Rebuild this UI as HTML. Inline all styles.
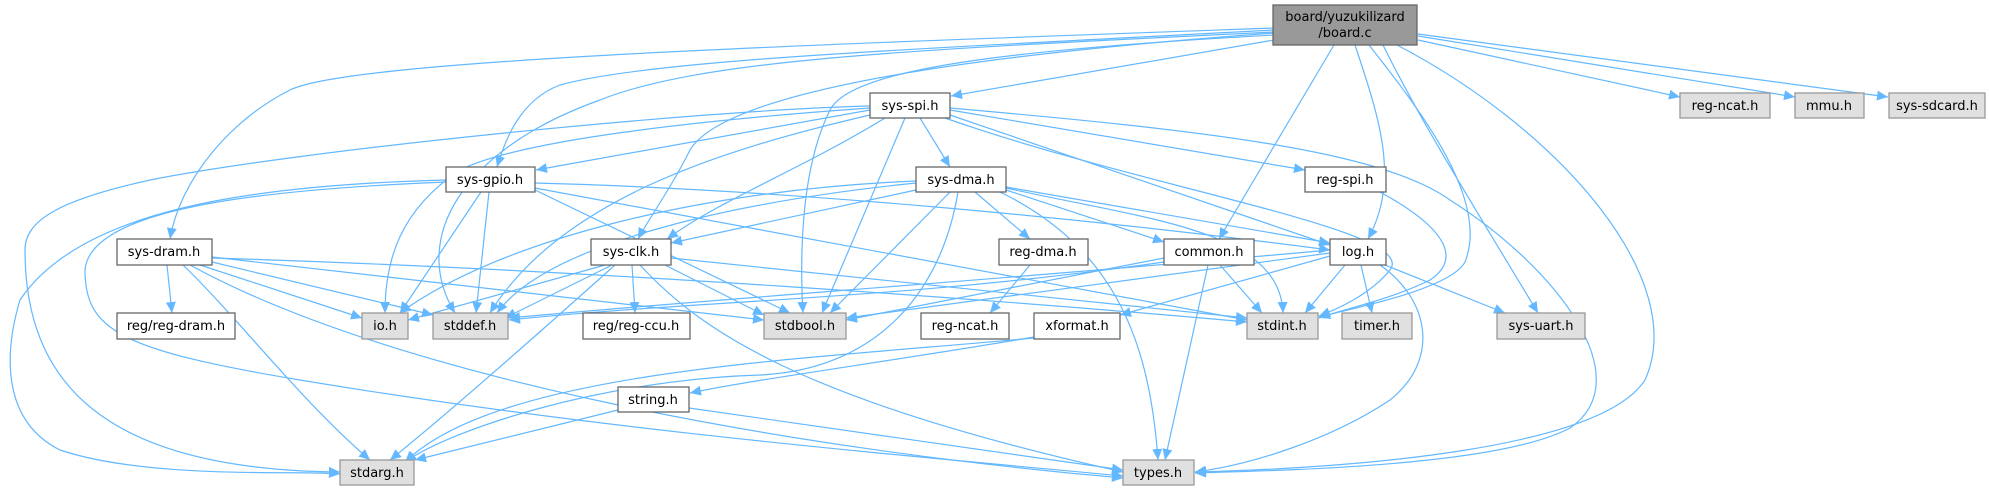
<!DOCTYPE html>
<html><head><meta charset="utf-8"><style>
html,body{margin:0;padding:0;background:#fff;width:1989px;height:491px;overflow:hidden}
svg{display:block}
text{font-family:"DejaVu Sans","Liberation Sans",sans-serif;font-size:13px;fill:#000}
.n rect{fill:#fff;stroke:#666;stroke-width:1.3}
.g rect{fill:#e0e0e0;stroke:#999;stroke-width:1.3}
.e path{fill:none;stroke:#63b8ff;stroke-width:1.2}
</style></head><body>
<svg width="1989" height="491" viewBox="0 0 1989 491" xmlns="http://www.w3.org/2000/svg">
<defs><marker id="a" markerUnits="userSpaceOnUse" markerWidth="12" markerHeight="10" refX="11" refY="5" orient="auto"><path d="M0,0 L11,5 L0,10 z" fill="#63b8ff"/></marker></defs>
<g class="e" marker-end="url(#a)">
<path d="M1274,40 L951,96"/>
<path d="M1334,45 L1219,239"/>
<path d="M1355,45 C1380,120 1400,180 1368,239"/>
<path d="M1369,45 C1420,110 1490,200 1465,262 C1450,290 1345,310 1319,317"/>
<path d="M1383,45 C1420,120 1470,200 1538,313"/>
<path d="M1397,45 C1560,130 1690,280 1645,380 C1600,450 1350,468 1195,472"/>
<path d="M1418,40 L1680,97"/>
<path d="M1418,36 L1795,97"/>
<path d="M1418,34 L1888,97"/>
<path d="M1274,28 C800,45 350,60 290,90 C230,120 180,180 170,239"/>
<path d="M1274,30 C900,50 650,60 560,85 C520,100 505,140 497,167"/>
<path d="M1274,32 C900,50 700,60 600,100 C460,150 410,240 455,313"/>
<path d="M1274,33 C900,60 720,100 690,150 C670,190 648,220 638,239"/>
<path d="M1274,35 C1000,50 850,70 830,110 C800,170 800,260 803,313"/>
<path d="M920,118 L950,167"/>
<path d="M950,110 L1305,170"/>
<path d="M950,115 L1330,245"/>
<path d="M945,118 C1150,190 1420,230 1390,270 C1370,295 1335,310 1319,316"/>
<path d="M950,108 C1200,130 1380,150 1450,200 C1560,270 1640,380 1570,428 C1500,465 1300,470 1195,473"/>
<path d="M870,110 L536,170"/>
<path d="M885,118 C800,170 720,200 667,239"/>
<path d="M905,118 L822,313"/>
<path d="M870,115 C720,150 560,200 490,313"/>
<path d="M870,108 C700,120 520,140 460,170 C400,210 385,260 385,313"/>
<path d="M870,106 C700,110 300,150 150,180 C60,200 25,220 25,250 C25,380 100,470 340,472"/>
<path d="M535,183 C800,190 1100,220 1330,250"/>
<path d="M535,188 L1247,320"/>
<path d="M535,190 L790,313"/>
<path d="M481,192 L400,313"/>
<path d="M489,192 L476,313"/>
<path d="M446,180 C250,185 80,210 20,300 C5,350 0,420 60,450 C150,480 300,470 340,474"/>
<path d="M446,182 C250,190 90,210 85,270 C85,330 120,350 300,380 C600,430 900,455 1123,476"/>
<path d="M167,265 L172,313"/>
<path d="M200,265 L362,318"/>
<path d="M212,262 L433,315"/>
<path d="M212,257 L764,320"/>
<path d="M212,258 C600,270 1000,300 1247,322"/>
<path d="M183,265 C240,320 300,400 370,460"/>
<path d="M190,265 C400,380 800,450 1123,478"/>
<path d="M632,265 L635,313"/>
<path d="M605,265 L408,320"/>
<path d="M612,265 L505,318"/>
<path d="M665,265 L764,315"/>
<path d="M671,258 L1247,318"/>
<path d="M615,265 C520,350 440,420 390,460"/>
<path d="M640,265 C700,330 800,400 1123,472"/>
<path d="M916,190 L671,243"/>
<path d="M975,192 L1030,239"/>
<path d="M1006,190 L1164,242"/>
<path d="M1006,187 L1330,243"/>
<path d="M1006,188 C1150,220 1280,230 1283,313"/>
<path d="M1000,192 C1120,250 1150,350 1158,460"/>
<path d="M950,192 L830,313"/>
<path d="M958,192 C940,300 870,370 760,375 C600,380 450,430 405,462"/>
<path d="M916,183 C750,200 550,240 497,313"/>
<path d="M916,181 C700,190 500,240 400,313"/>
<path d="M1030,265 L990,313"/>
<path d="M1164,258 L846,320"/>
<path d="M1220,265 L1262,313"/>
<path d="M1208,265 L1165,460"/>
<path d="M1164,262 C900,300 700,300 509,320"/>
<path d="M1345,265 L1305,313"/>
<path d="M1361,265 L1372,313"/>
<path d="M1385,265 L1505,313"/>
<path d="M1330,256 L1120,315"/>
<path d="M1330,253 L846,318"/>
<path d="M1330,250 C1000,280 700,300 509,318"/>
<path d="M1380,265 C1430,300 1440,360 1390,400 C1330,440 1250,465 1195,472"/>
<path d="M1380,192 C1450,230 1460,260 1430,280 C1390,300 1340,310 1319,318"/>
<path d="M1034,337 C900,360 750,380 690,393"/>
<path d="M1034,338 C800,360 500,370 405,462"/>
<path d="M618,410 L415,460"/>
<path d="M689,408 L1123,470"/>
</g>
<g text-anchor="middle">
<g><rect x="1273" y="5" width="144" height="40" fill="#999" stroke="#666" stroke-width="1.3"/><text x="1345" y="21">board/yuzukilizard</text><text x="1345" y="37">/board.c</text></g>
<g class="n"><rect x="870" y="93" width="80" height="25"/><text x="910" y="110">sys-spi.h</text></g>
<g class="g"><rect x="1680" y="93" width="90" height="25"/><text x="1725" y="110">reg-ncat.h</text></g>
<g class="g"><rect x="1795" y="93" width="69" height="25"/><text x="1829" y="110">mmu.h</text></g>
<g class="g"><rect x="1889" y="93" width="96" height="25"/><text x="1937" y="110">sys-sdcard.h</text></g>
<g class="n"><rect x="446" y="167" width="89" height="25"/><text x="490" y="184">sys-gpio.h</text></g>
<g class="n"><rect x="916" y="167" width="90" height="25"/><text x="961" y="184">sys-dma.h</text></g>
<g class="n"><rect x="1305" y="167" width="81" height="25"/><text x="1345" y="184">reg-spi.h</text></g>
<g class="n"><rect x="117" y="239" width="95" height="26"/><text x="164" y="256">sys-dram.h</text></g>
<g class="n"><rect x="591" y="239" width="80" height="26"/><text x="631" y="256">sys-clk.h</text></g>
<g class="n"><rect x="999" y="239" width="89" height="26"/><text x="1043" y="256">reg-dma.h</text></g>
<g class="n"><rect x="1164" y="239" width="90" height="26"/><text x="1209" y="256">common.h</text></g>
<g class="n"><rect x="1330" y="239" width="56" height="26"/><text x="1358" y="256">log.h</text></g>
<g class="n"><rect x="117" y="313" width="118" height="26"/><text x="176" y="330">reg/reg-dram.h</text></g>
<g class="g"><rect x="362" y="313" width="46" height="26"/><text x="385" y="330">io.h</text></g>
<g class="g"><rect x="433" y="313" width="75" height="26"/><text x="470" y="330">stddef.h</text></g>
<g class="n"><rect x="583" y="313" width="107" height="26"/><text x="636" y="330">reg/reg-ccu.h</text></g>
<g class="g"><rect x="764" y="313" width="82" height="26"/><text x="805" y="330">stdbool.h</text></g>
<g class="n"><rect x="921" y="313" width="88" height="26"/><text x="965" y="330">reg-ncat.h</text></g>
<g class="n"><rect x="1034" y="313" width="86" height="26"/><text x="1077" y="330">xformat.h</text></g>
<g class="g"><rect x="1247" y="313" width="71" height="26"/><text x="1282" y="330">stdint.h</text></g>
<g class="g"><rect x="1342" y="313" width="70" height="26"/><text x="1377" y="330">timer.h</text></g>
<g class="g"><rect x="1497" y="313" width="88" height="26"/><text x="1541" y="330">sys-uart.h</text></g>
<g class="n"><rect x="618" y="387" width="71" height="25"/><text x="653" y="404">string.h</text></g>
<g class="g"><rect x="340" y="460" width="74" height="25"/><text x="377" y="477">stdarg.h</text></g>
<g class="g"><rect x="1123" y="460" width="71" height="25"/><text x="1158" y="477">types.h</text></g>
</g>
</svg>
</body></html>
